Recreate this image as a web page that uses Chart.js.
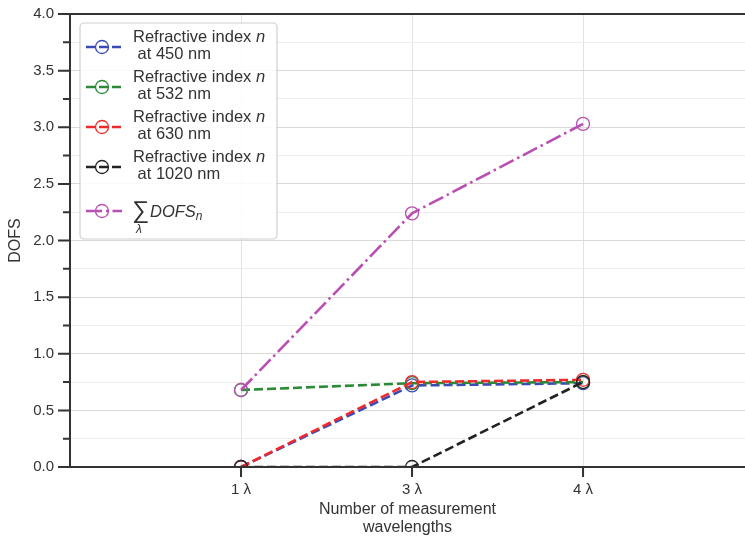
<!DOCTYPE html>
<html>
<head>
<meta charset="utf-8">
<script src="https://cdn.jsdelivr.net/npm/chart.js@4.4.0/dist/chart.umd.min.js"></script>
<style>
html, body { margin: 0; padding: 0; overflow: hidden; background: #fff; }
#wrap { width: 745px; height: 542px; }
</style>
</head>
<body>
<div id="wrap"><canvas id="DofsChart"></canvas></div>
<script>
// values
var xLabels = ['1 λ', '3 λ', '4 λ'];
var wavelengths = [450, 532, 630, 1020];
var n450 = [0, 0.72, 0.74];
var n532 = [0.68, 0.74, 0.75];
var n630 = [0, 0.75, 0.77];
var n1020 = [0, 0, 0.75];
var sumDofs = [0.68, 2.24, 3.03];

var FONT = '"Liberation Sans", Arial, sans-serif';
var INK = '#333';

function makeSet(label, values, color, dash, order) {
  return {
    label: label,
    data: values.map(function(v, i) { return {x: i + 1, y: v}; }),
    borderColor: color,
    borderWidth: 2.6,
    borderDash: dash,
    pointRadius: 6.5,
    pointHoverRadius: 6.5,
    pointBorderColor: color,
    pointBackgroundColor: 'rgba(0,0,0,0)',
    pointBorderWidth: 1.3,
    fill: false,
    tension: 0,
    order: order,
    clip: {left: 2, top: 2, right: 2, bottom: 0}
  };
}

var sets = [
  makeSet('n450', n450, '#3a4bb8', [9, 4], 5),
  makeSet('n532', n532, '#2a8a36', [9, 4], 4),
  makeSet('n630', n630, '#f02a2a', [9, 4], 3),
  makeSet('n1020', n1020, '#222222', [9, 4], 2),
  makeSet('sum', sumDofs, '#b94fb2', [16, 4, 2.5, 4], 1)
];

// spines, tick marks and the legend box
var decor = {
  id: 'decor',
  afterDraw: function(chart) {
    var ctx = chart.ctx;
    var a = chart.chartArea;
    var ys = chart.scales.y, xs = chart.scales.x;
    ctx.save();
    ctx.strokeStyle = INK;
    ctx.lineWidth = 2;
    ctx.beginPath();
    ctx.moveTo(a.left - 1, a.top);
    ctx.lineTo(a.right, a.top);
    for (var v = 0; v <= 4.001; v += 0.25) {
      var py = ys.getPixelForValue(v);
      var len = (Math.round(v * 4) % 2 == 0) ? 12 : 7;
      ctx.moveTo(a.left - len, py);
      ctx.lineTo(a.left, py);
    }
    for (var i = 0; i < xLabels.length; i++) {
      var px = xs.getPixelForValue(i + 1);
      ctx.moveTo(px, a.bottom);
      ctx.lineTo(px, a.bottom + 10);
    }
    ctx.stroke();

    // legend
    var bx = 80, by = 23, bw = 197, bh = 216;
    ctx.fillStyle = 'rgba(255,255,255,0.85)';
    ctx.strokeStyle = '#cfcfcf';
    ctx.lineWidth = 1.2;
    ctx.beginPath();
    ctx.roundRect(bx, by, bw, bh, 4);
    ctx.fill();
    ctx.stroke();

    for (var k = 0; k < sets.length; k++) {
      var ds = sets[k];
      var ly = 47 + k * 40;
      if (k == 4) ly = 211;
      ctx.strokeStyle = ds.borderColor;
      ctx.lineWidth = ds.borderWidth;
      ctx.setLineDash(ds.borderDash);
      ctx.beginPath();
      ctx.moveTo(86, ly);
      ctx.lineTo(122, ly);
      ctx.stroke();
      ctx.setLineDash([]);
      ctx.lineWidth = 1.3;
      ctx.beginPath();
      ctx.arc(102, ly, 6.5, 0, Math.PI * 2);
      ctx.stroke();

      ctx.fillStyle = INK;
      ctx.textBaseline = 'middle';
      ctx.textAlign = 'left';
      if (k < 4) {
        ctx.font = '16.5px ' + FONT;
        var t = 'Refractive index ';
        ctx.fillText(t, 133, ly - 10);
        var w = ctx.measureText(t).width;
        ctx.font = 'italic 16.5px ' + FONT;
        ctx.fillText('n', 133 + w, ly - 10);
        ctx.font = '16.5px ' + FONT;
        ctx.fillText(' at ' + wavelengths[k] + ' nm', 133, ly + 7);
      } else {
        ctx.font = '24px ' + FONT;
        ctx.fillText('∑', 132, ly);
        ctx.font = 'italic 12px ' + FONT;
        ctx.fillText('λ', 136, ly + 19);
        ctx.font = 'italic 16.5px ' + FONT;
        ctx.fillText('DOFS', 150, ly + 1);
        var w2 = ctx.measureText('DOFS').width;
        ctx.font = 'italic 12px ' + FONT;
        ctx.fillText('n', 150 + w2, ly + 6);
      }
    }
    ctx.restore();
  }
};

var ctx = document.getElementById('DofsChart').getContext('2d');
var dofsChart = new Chart(ctx, {
  type: 'line',
  data: { datasets: sets },
  plugins: [decor],
  options: {
    responsive: true,
    maintainAspectRatio: false,
    animation: false,
    layout: { autoPadding: false, padding: { top: 14, right: 0, bottom: 0, left: 0 } },
    plugins: { legend: { display: false }, tooltip: { enabled: false } },
    scales: {
      x: {
        type: 'linear',
        min: 0,
        max: 3.947,
        afterBuildTicks: function(scale) {
          scale.ticks = xLabels.map(function(l, i) { return {value: i + 1}; });
        },
        afterFit: function(scale) {
          scale.height = 75;
          scale.paddingLeft = 0;
          scale.paddingRight = 0;
        },
        ticks: {
          autoSkip: false,
          maxRotation: 0,
          padding: 14,
          color: INK,
          font: { family: FONT, size: 15 },
          callback: function(value) { return xLabels[value - 1]; }
        },
        grid: { color: '#e2e2e2', lineWidth: 1, drawTicks: false },
        border: { color: INK, width: 2, z: 1 },
        title: {
          display: true,
          text: ['Number of measurement', 'wavelengths'],
          color: INK,
          font: { family: FONT, size: 16, lineHeight: 1.15 },
          padding: { top: 0, bottom: 5 }
        }
      },
      y: {
        min: 0,
        max: 4,
        afterFit: function(scale) {
          scale.width = 70;
          scale.paddingTop = 0;
          scale.paddingBottom = 0;
        },
        ticks: {
          stepSize: 0.25,
          padding: 16,
          color: INK,
          font: { family: FONT, size: 15 },
          callback: function(value) {
            return Math.round(value * 4) % 2 == 0 ? value.toFixed(1) : '';
          }
        },
        grid: {
          drawTicks: false,
          lineWidth: 1,
          color: function(c) {
            return Math.round(c.tick.value * 4) % 2 == 0 ? '#d9d9d9' : '#ededed';
          }
        },
        border: { color: INK, width: 2, z: 1 },
        title: {
          display: true,
          text: 'DOFS',
          color: INK,
          font: { family: FONT, size: 16 },
          padding: { top: 6, bottom: 0 }
        }
      }
    }
  }
});
</script>
</body>
</html>
